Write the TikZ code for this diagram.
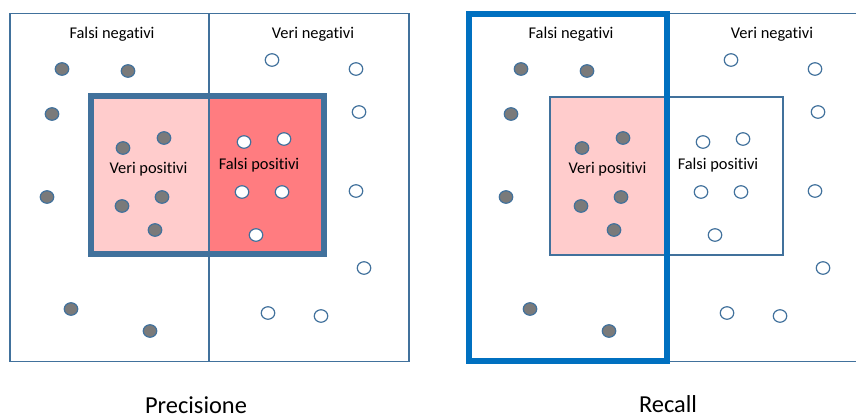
\documentclass[tikz,border=0pt]{standalone}
\usepackage{fontspec}
\setmainfont{Carlito}[Ligatures=NoCommon,RawFeature={-liga;-clig;-dlig}]
\usetikzlibrary{shapes.geometric}
\definecolor{lineblue}{HTML}{41719C}
\definecolor{recallblue}{HTML}{0070C0}
\definecolor{dotgrey}{HTML}{7A7A7A}
\definecolor{lightpink}{HTML}{FFCCCC}
\definecolor{salmon}{HTML}{FF7C80}
\tikzset{
  posdot/.style={ellipse, draw=lineblue, fill=dotgrey, line width=1.2pt, minimum width=13.5pt, minimum height=12.5pt, inner sep=0pt},
  negdot/.style={ellipse, draw=lineblue, fill=white, line width=1.2pt, minimum width=13.5pt, minimum height=12.5pt, inner sep=0pt},
  lbl/.style={font=\fontsize{16.4}{19}\selectfont, inner sep=0pt},
  title/.style={font=\fontsize{24.4}{28}\selectfont, inner sep=0pt},
  thinbox/.style={draw=lineblue, line width=1.1pt},
}
\begin{document}
\begin{tikzpicture}[x=1pt,y=-1pt]
\useasboundingbox (0,0) rectangle (856,418);
% ---------- Left panel: Precisione ----------
\draw[thinbox] (10,13.5) rectangle (409,361.5);
\fill[lightpink] (91,96) rectangle (208.5,254);
\fill[salmon] (208.5,96) rectangle (324,254);
\draw[thinbox] (209,13.5) -- (209,361.5);
\draw[draw=lineblue, line width=6pt] (91,96) rectangle (324,254);
\node[lbl] (fnL) at (112,34) {Falsi negativi};
\node[lbl] (vnL) at (313,34) {Veri negativi};
\node[lbl] (vpL) at (148.5,169) {Veri positivi};
\node[lbl] (fpL) at (259,165) {Falsi positivi};
\foreach \x/\y [count=\i] in {62/69,128/71,52/114,47/197,71/309,150/331,123/148,164/138,122/206,162/197,155/230}
  \node[posdot] (pL\i) at (\x,\y) {};
\foreach \x/\y [count=\i] in {272/60,356/69,359/112,356/191,364/268,268/313,321/316,244/142,284/139,242/192,282/192,256/235}
  \node[negdot] (nL\i) at (\x,\y) {};
\node[title] (prec) at (196,405) {Precisione};
% ---------- Right panel: Recall ----------
\begin{scope}[xshift=459pt]
\draw[thinbox] (10,13.5) rectangle (420,361.5);
\fill[lightpink] (91,97) rectangle (208.5,255);
\draw[thinbox] (91,97) rectangle (324,255);
\draw[draw=recallblue, line width=6pt] (10,14) rectangle (208,361);
\node[lbl] (fnR) at (112,34) {Falsi negativi};
\node[lbl] (vnR) at (313,34) {Veri negativi};
\node[lbl] (vpR) at (148.5,169) {Veri positivi};
\node[lbl] (fpR) at (259,165) {Falsi positivi};
\foreach \x/\y [count=\i] in {62/69,128/71,52/114,47/197,71/309,150/331,123/148,164/138,122/206,162/197,155/230}
  \node[posdot] (pR\i) at (\x,\y) {};
\foreach \x/\y [count=\i] in {272/60,356/69,359/112,356/191,364/268,268/313,321/316,244/142,284/139,242/192,282/192,256/235}
  \node[negdot] (nR\i) at (\x,\y) {};
\node[title] (rec) at (209,404) {Recall};
\end{scope}
\end{tikzpicture}
\end{document}
